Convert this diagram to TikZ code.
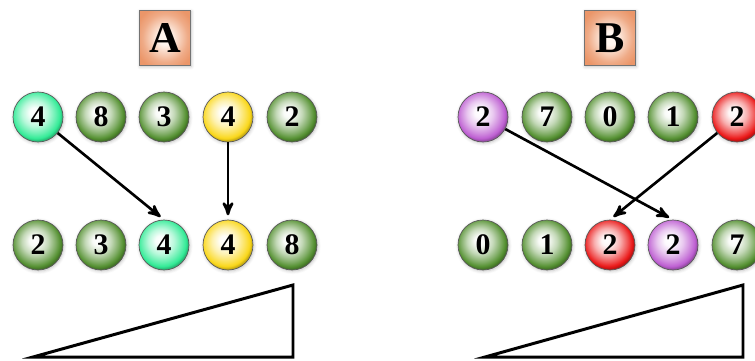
\documentclass[tikz,border=0pt]{standalone}
\usepackage{fontspec}
\setmainfont{Liberation Serif}
\usetikzlibrary{arrows,shadows.blur}

\definecolor{ballgreen}{RGB}{85,145,50}
\definecolor{ballaqua}{RGB}{50,235,150}
\definecolor{ballyellow}{RGB}{250,215,25}
\definecolor{ballred}{RGB}{235,25,25}
\definecolor{ballpurple}{RGB}{190,95,210}
\definecolor{boxorange}{RGB}{235,150,105}
\definecolor{boxlight}{RGB}{255,245,238}

% glossy ball shading, highlight a bit up and to the left
\newcommand{\ballshading}[2]{%
  \pgfdeclareradialshading{#1}{\pgfpoint{-4bp}{5bp}}{%
    color(0bp)=(white); color(5bp)=(#2!4!white); color(13bp)=(#2!35!white);
    color(20bp)=(#2!75!white); color(24bp)=(#2); color(26bp)=(#2!80!black);
    color(50bp)=(#2!80!black)}}
\ballshading{greenball}{ballgreen}
\ballshading{aquaball}{ballaqua}
\ballshading{yellowball}{ballyellow}
\ballshading{redball}{ballred}
\ballshading{purpleball}{ballpurple}
% soft orange tile behind the letters
\pgfdeclareradialshading{tileshade}{\pgfpoint{0bp}{0bp}}{%
  color(0bp)=(boxlight); color(6bp)=(boxlight); color(22bp)=(boxorange!80!white);
  color(30bp)=(boxorange); color(50bp)=(boxorange)}

\tikzset{
  ball/.style={circle, draw=black!65, thin, minimum size=1cm, inner sep=0pt,
    font=\fontsize{17}{17}\selectfont\bfseries,
    blur shadow={shadow xshift=0.4pt, shadow yshift=-0.6pt, shadow blur steps=6, shadow opacity=25}},
  heading/.style={draw=black!55, thin, minimum width=1.02cm, minimum height=1.1cm,
    shading=tileshade, font=\fontsize{25}{25}\selectfont\bfseries,
    blur shadow={shadow xshift=0.4pt, shadow yshift=-0.6pt, shadow blur steps=6, shadow opacity=25}},
  move/.style={->, >=stealth', line width=1.5pt, shorten >=2.5pt},
  ramp/.style={line width=1.7pt}
}

\begin{document}
\begin{tikzpicture}[x=0.02cm,y=-0.02cm]
\useasboundingbox (0,0) rectangle (755,360);
\clip (0,0) rectangle (755,360);

% left: stable
\node[heading] (hA) at (165,38) {A};
\node[ball, shading=aquaball] (a1) at (38,117) {4};
\node[ball, shading=greenball] (a2) at (101,117) {8};
\node[ball, shading=greenball] (a3) at (164,117) {3};
\node[ball, shading=yellowball] (a4) at (228,117) {4};
\node[ball, shading=greenball] (a5) at (292,117) {2};
\node[ball, shading=greenball] (sa1) at (38,245) {2};
\node[ball, shading=greenball] (sa2) at (101,245) {3};
\node[ball, shading=aquaball] (sa3) at (164,245) {4};
\node[ball, shading=yellowball] (sa4) at (228,245) {4};
\node[ball, shading=greenball] (sa5) at (292,245) {8};
\draw[move] (a1) -- (sa3.north);
\draw[move] (a4) -- (sa4.north);
\draw[ramp] (33,357) -- (293,285) -- (293,357) -- cycle;

% right: unstable
\node[heading] (hB) at (610,38) {B};
\node[ball, shading=purpleball] (b1) at (483,117) {2};
\node[ball, shading=greenball] (b2) at (547,117) {7};
\node[ball, shading=greenball] (b3) at (610,117) {0};
\node[ball, shading=greenball] (b4) at (673,117) {1};
\node[ball, shading=redball] (b5) at (737,117) {2};
\node[ball, shading=greenball] (sb1) at (483,245) {0};
\node[ball, shading=greenball] (sb2) at (547,245) {1};
\node[ball, shading=redball] (sb3) at (610,245) {2};
\node[ball, shading=purpleball] (sb4) at (673,245) {2};
\node[ball, shading=greenball] (sb5) at (737,245) {7};
\draw[move] (b1) -- (sb4.north);
\draw[move] (b5) -- (sb3.north);
\draw[ramp] (485,357) -- (743,285) -- (743,357) -- cycle;
\end{tikzpicture}
\end{document}
